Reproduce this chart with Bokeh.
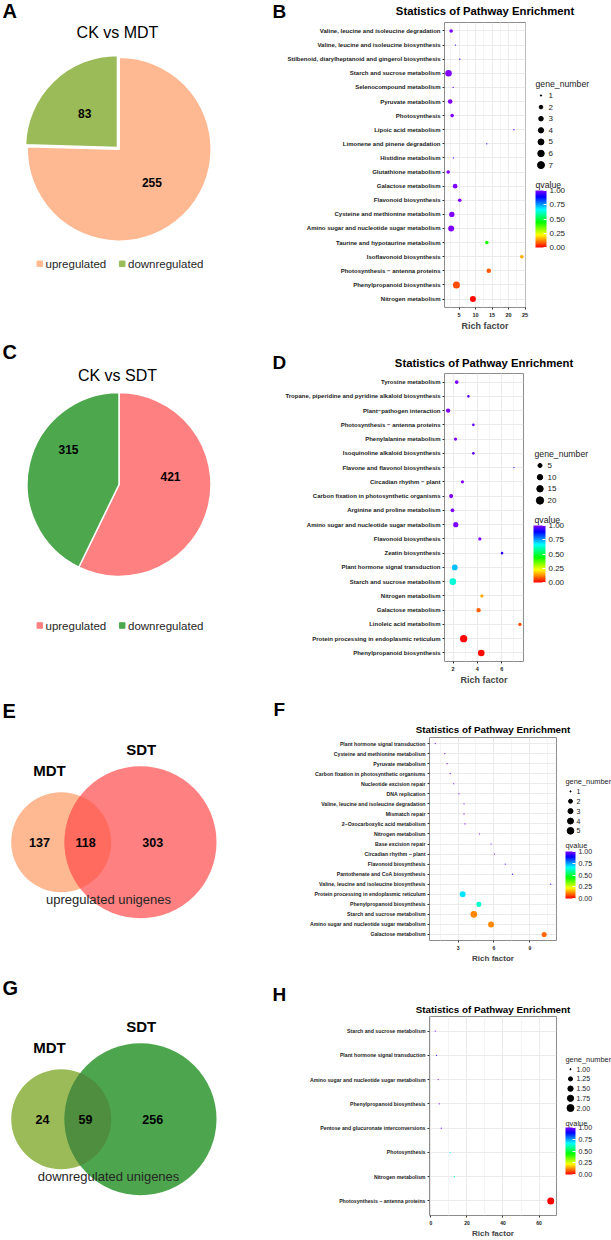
import colorsys
import numpy as np
from bokeh.plotting import figure
from bokeh.models import (Range1d, FactorRange, FixedTicker, ColumnDataSource,
                          LinearColorMapper, ColorBar, PrintfTickFormatter)
from bokeh.layouts import row, column
from bokeh.core.properties import value
from bokeh.embed import file_html
from bokeh.resources import INLINE

FONT = "Liberation Sans"
TITLE = "Statistics of Pathway Enrichment"

# ----------------------------- data -----------------------------
deg_labels = ["upregulated", "downregulated"]
ck_mdt_counts = [255, 83]
ck_sdt_counts = [421, 315]
venn_sets = ["MDT", "SDT"]
venn_up_counts = [137, 118, 303]     # MDT only, shared, SDT only
venn_down_counts = [24, 59, 256]

B_pathways = [
    "Valine, leucine and isoleucine degradation",
    "Valine, leucine and isoleucine biosynthesis",
    "Stilbenoid, diarylheptanoid and gingerol biosynthesis",
    "Starch and sucrose metabolism",
    "Selenocompound metabolism",
    "Pyruvate metabolism",
    "Photosynthesis",
    "Lipoic acid metabolism",
    "Limonene and pinene degradation",
    "Histidine metabolism",
    "Glutathione metabolism",
    "Galactose metabolism",
    "Flavonoid biosynthesis",
    "Cysteine and methionine metabolism",
    "Amino sugar and nucleotide sugar metabolism",
    "Taurine and hypotaurine metabolism",
    "Isoflavonoid biosynthesis",
    "Photosynthesis \u2212 antenna proteins",
    "Phenylpropanoid biosynthesis",
    "Nitrogen metabolism",
]
B_rich = [2.6, 3.9, 5.2, 1.8, 3.2, 2.3, 2.9, 21.6, 13.4, 3.3,
          1.7, 3.8, 5.2, 2.8, 2.6, 13.4, 24.0, 14.0, 4.2, 9.2]
B_genes = [2, 1, 1, 6, 1, 3, 2, 1, 1, 1, 2, 3, 2, 4, 5, 2, 2, 3, 7, 5]
B_q = [1.0, 0.95, 0.95, 1.0, 0.98, 1.0, 1.0, 0.97, 0.9, 0.97,
       1.0, 1.0, 1.0, 1.0, 1.0, 0.42, 0.15, 0.08, 0.07, 0.01]
B_ticks = [5, 10, 15, 20, 25]
B_size_breaks = [1, 2, 3, 4, 5, 6, 7]
B_size_labels = ["1", "2", "3", "4", "5", "6", "7"]

D_pathways = [
    "Tyrosine metabolism",
    "Tropane, piperidine and pyridine alkaloid biosynthesis",
    "Plant\u2212pathogen interaction",
    "Photosynthesis \u2212 antenna proteins",
    "Phenylalanine metabolism",
    "Isoquinoline alkaloid biosynthesis",
    "Flavone and flavonol biosynthesis",
    "Circadian rhythm \u2212 plant",
    "Carbon fixation in photosynthetic organisms",
    "Arginine and proline metabolism",
    "Amino sugar and nucleotide sugar metabolism",
    "Flavonoid biosynthesis",
    "Zeatin biosynthesis",
    "Plant hormone signal transduction",
    "Starch and sucrose metabolism",
    "Nitrogen metabolism",
    "Galactose metabolism",
    "Linoleic acid metabolism",
    "Protein processing in endoplasmic reticulum",
    "Phenylpropanoid biosynthesis",
]
D_rich = [2.30, 3.26, 1.59, 3.67, 2.20, 3.67, 7.01, 2.77, 1.84, 1.95,
          2.22, 4.20, 6.03, 2.14, 1.98, 4.37, 4.10, 7.50, 2.87, 4.32]
D_genes = [4, 2, 6, 2, 3, 2, 1, 3, 5, 4, 9, 3, 2, 12, 16, 3, 6, 3, 20, 16]
D_q = [1.0, 0.97, 1.0, 0.97, 1.0, 0.97, 0.93, 1.0, 1.0, 1.0,
       1.0, 1.0, 0.93, 0.72, 0.63, 0.15, 0.085, 0.07, 0.005, 0.01]
D_ticks = [2, 4, 6]
D_size_breaks = [5, 10, 15, 20]
D_size_labels = ["5", "10", "15", "20"]

F_pathways = [
    "Plant hormone signal transduction",
    "Cysteine and methionine metabolism",
    "Pyruvate metabolism",
    "Carbon fixation in photosynthetic organisms",
    "Nucleotide excision repair",
    "DNA replication",
    "Valine, leucine and isoleucine degradation",
    "Mismatch repair",
    "2\u2212Oxocarboxylic acid metabolism",
    "Nitrogen metabolism",
    "Base excision repair",
    "Circadian rhythm \u2212 plant",
    "Flavonoid biosynthesis",
    "Pantothenate and CoA biosynthesis",
    "Valine, leucine and isoleucine biosynthesis",
    "Protein processing in endoplasmic reticulum",
    "Phenylpropanoid biosynthesis",
    "Starch and sucrose metabolism",
    "Amino sugar and nucleotide sugar metabolism",
    "Galactose metabolism",
]
F_rich = [1.10, 1.90, 2.09, 2.34, 2.64, 3.08, 3.50, 3.50, 3.58, 4.79,
          5.76, 6.03, 6.94, 7.55, 10.74, 3.39, 4.74, 4.32, 5.76, 10.19]
F_genes = [1, 1, 1, 1, 1, 1, 1, 1, 1, 1, 1, 1, 1, 1, 1, 4, 3, 5, 4, 3]
F_q = [1.0, 1.0, 1.0, 1.0, 1.0, 1.0, 1.0, 1.0, 1.0, 1.0,
       0.98, 0.97, 0.97, 0.95, 0.95, 0.69, 0.62, 0.12, 0.12, 0.09]
F_ticks = [3, 6, 9]
F_size_breaks = [1, 2, 3, 4, 5]
F_size_labels = ["1", "2", "3", "4", "5"]

H_pathways = [
    "Starch and sucrose metabolism",
    "Plant hormone signal transduction",
    "Amino sugar and nucleotide sugar metabolism",
    "Phenylpropanoid biosynthesis",
    "Pentose and glucuronate interconversions",
    "Photosynthesis",
    "Nitrogen metabolism",
    "Photosynthesis \u2212 antenna proteins",
]
H_rich = [2.4, 3.1, 4.0, 4.6, 5.7, 10.6, 13.0, 66.5]
H_genes = [1, 1, 1, 1, 1, 1, 1, 2]
H_q = [1.0, 0.95, 1.0, 1.0, 1.0, 0.66, 0.6, 0.0]
H_ticks = [0, 20, 40, 60]
H_size_breaks = [1.0, 1.25, 1.5, 1.75, 2.0]
H_size_labels = ["1.00", "1.25", "1.50", "1.75", "2.00"]

Q_breaks = [0.0, 0.25, 0.5, 0.75, 1.0]

# ----------------------------- style -----------------------------
PAL = []
for i in range(256):
    r, g, b = colorsys.hsv_to_rgb((270.0 / 360.0) * i / 255.0, 1.0, 1.0)
    PAL.append("#%02x%02x%02x" % (int(r * 255), int(g * 255), int(b * 255)))
mapper = LinearColorMapper(palette=PAL, low=0, high=1)


def area_size(v, vmin, vmax, d0, d1):
    v = np.asarray(v, dtype=float)
    return d0 + (d1 - d0) * np.sqrt((v - vmin) / (vmax - vmin))


def txt(p, x, y, text, size, bold=False, align="left", baseline="middle", color="black"):
    p.text(x=x, y=y, text=text, text_font=value(FONT), text_font_size=size,
           text_font_style="bold" if bold else "normal", text_align=align,
           text_baseline=baseline, text_color=color)


def blank_fig(left, right, top, bottom, flip=False, frame_bottom=None):
    fb = bottom if frame_bottom is None else frame_bottom
    yr = Range1d(fb, top) if flip else Range1d(-fb, -top)
    p = figure(width=right - left, height=bottom - top, x_range=Range1d(left, right),
               y_range=yr, output_backend="svg", toolbar_location=None,
               min_border_left=0, min_border_right=0, min_border_top=0,
               min_border_bottom=bottom - fb, x_axis_type=None, y_axis_type=None)
    p.outline_line_color = None
    p.background_fill_color = "white"
    p.border_fill_color = "white"
    return p


def pie_fig(top, bottom, letter, letter_y, title, title_y, counts, colors, cx, cy, R,
            legend_y, explode_idx=None, label_xy=None):
    p = blank_fig(0, 250, top, bottom)
    txt(p, [2], [-letter_y], [letter], "20px", bold=True)
    txt(p, [117], [-title_y], [title], "16px", align="center")
    total = float(sum(counts))
    fr = np.cumsum([0] + list(counts)) / total
    starts = np.pi / 2 - 2 * np.pi * fr[:-1]
    ends = np.pi / 2 - 2 * np.pi * fr[1:]
    mids = (starts + ends) / 2
    ex = np.zeros(len(counts))
    if explode_idx is not None:
        ex[explode_idx] = 2.5
    xs = cx + ex * np.cos(mids)
    ys = -cy + ex * np.sin(mids)
    p.wedge(x=xs, y=ys, radius=R, start_angle=starts, end_angle=ends, direction="clock",
            fill_color=colors, line_color="white", line_width=1.5)
    if label_xy is None:
        lx = list(xs + 0.51 * R * np.cos(mids))
        ly = list(ys + 0.51 * R * np.sin(mids))
    else:
        lx = [pt[0] for pt in label_xy]
        ly = [-pt[1] for pt in label_xy]
    txt(p, lx, ly, [str(c) for c in counts], "12px", bold=True, align="center")
    p.scatter(x=[39.3, 121.7], y=[-legend_y, -legend_y], marker="square", size=5.5,
              color=colors)
    txt(p, [45, 127.5], [-legend_y, -legend_y], deg_labels, "11.5px", color="#262626")
    return p


def venn_fig(top, bottom, letter, letter_y, counts, colors, lens_color, cy, caption, dx):
    p = blank_fig(0, 250, top, bottom)
    txt(p, [2], [-letter_y], [letter], "20px", bold=True)
    c1, r1, c2, r2 = 60.7, 50.0, 140.0, 76.0
    p.circle(x=[c1], y=[-cy], radius=r1, fill_color=colors[0], line_color=None)
    p.circle(x=[c2], y=[-cy], radius=r2, fill_color=colors[1], line_color=None)
    d = c2 - c1
    a = (d * d + r1 * r1 - r2 * r2) / (2 * d)
    h = np.sqrt(r1 * r1 - a * a)
    t1 = np.arctan2(h, a)
    t2 = np.arctan2(h, d - a)
    arc1 = np.linspace(-t1, t1, 60)
    arc2 = np.linspace(np.pi - t2, np.pi + t2, 60)
    lx = np.concatenate([c1 + r1 * np.cos(arc1), c2 + r2 * np.cos(arc2)])
    ly = np.concatenate([-cy + r1 * np.sin(arc1), -cy + r2 * np.sin(arc2)])
    p.patch(x=lx, y=ly, fill_color=lens_color, line_color=None)
    txt(p, [49], [-(cy - 71.7)], [venn_sets[0]], "15px", bold=True, align="center")
    txt(p, [140.7], [-(cy - 92.4)], [venn_sets[1]], "15px", bold=True, align="center")
    txt(p, [39 + dx, 85, 152.3], [-cy] * 3, [str(c) for c in counts], "12.5px", bold=True,
        align="center")
    txt(p, [108], [-(cy + 57.3)], [caption], "13px", align="center", color="#262626")
    return p


def header_fig(top, bottom, letter, letter_x, letter_y, title_x, title_y, title_fs):
    p = blank_fig(250, 611, top, bottom)
    txt(p, [letter_x], [-letter_y], [letter], "19px", bold=True)
    txt(p, [title_x], [-title_y], [TITLE], title_fs, bold=True, align="center")
    return p


def dot_fig(top, bottom, left, right, fl, fr_, fb, pathways, rich, genes, q, ticks,
            size_rng, label_fs, tick_fs, xlab_fs):
    factors = list(reversed(pathways))
    lo, hi = min(rich), max(rich)
    span = hi - lo
    xr = Range1d(lo - 0.05 * span, hi + 0.05 * span)
    yr = FactorRange(factors=factors, range_padding=0.2 / len(factors),
                     range_padding_units="percent")
    p = figure(width=right - left, height=bottom - top, x_range=xr, y_range=yr,
               min_border_left=fl - left, min_border_right=right - fr_,
               min_border_top=0, min_border_bottom=bottom - fb,
               output_backend="svg", toolbar_location=None)
    p.background_fill_color = "white"
    p.border_fill_color = "white"
    p.outline_line_color = "#8c8c8c"
    p.outline_line_width = 1
    step = ticks[1] - ticks[0]
    minor = [t - step / 2 for t in ticks] + [ticks[-1] + step / 2]
    minor = [m for m in minor if xr.start <= m <= xr.end]
    tk = FixedTicker(ticks=ticks, minor_ticks=minor)
    p.xaxis.ticker = tk
    p.xgrid.ticker = tk
    p.xgrid.grid_line_color = "#ebebeb"
    p.xgrid.minor_grid_line_color = "#f4f4f4"
    p.ygrid.grid_line_color = "#ebebeb"
    p.axis.axis_line_color = None
    p.axis.major_tick_line_color = "#333333"
    p.axis.major_tick_out = 2
    p.axis.major_tick_in = 0
    p.axis.minor_tick_line_color = None
    p.axis.major_label_text_font = FONT
    p.axis.major_label_text_font_style = "bold"
    p.axis.major_label_text_color = "#1a1a1a"
    p.yaxis.major_label_text_font_size = label_fs
    p.yaxis.major_label_standoff = 2
    p.xaxis.major_label_text_font_size = tick_fs
    p.xaxis.major_label_standoff = 1
    p.xaxis.axis_label = "Rich factor"
    p.xaxis.axis_label_text_font = FONT
    p.xaxis.axis_label_text_font_size = xlab_fs
    p.xaxis.axis_label_text_font_style = "bold"
    p.xaxis.axis_label_standoff = 1
    src = ColumnDataSource(dict(x=rich, y=pathways, q=q, s=area_size(genes, *size_rng)))
    p.scatter(x="x", y="y", size="s", source=src,
              fill_color={"field": "q", "transform": mapper}, line_color=None)
    return p


def legend_fig(top, bottom, left, right, fb, tx, gy, item_ys, cx, lx, breaks, labels,
               size_rng, qy, bar, title_fs, lab_fs):
    p = blank_fig(left, right, top, bottom, flip=True, frame_bottom=fb)
    txt(p, [tx], [gy], ["gene_number"], title_fs, color="#1a1a1a")
    p.scatter(x=[cx] * len(breaks), y=item_ys, size=area_size(breaks, *size_rng),
              color="black")
    txt(p, [lx] * len(labels), item_ys, labels, lab_fs, color="#1a1a1a")
    txt(p, [tx], [qy], ["qvalue"], title_fs, color="#1a1a1a")
    bx0, bx1, by0, by1 = bar
    cb = ColorBar(color_mapper=mapper, ticker=FixedTicker(ticks=Q_breaks),
                  formatter=PrintfTickFormatter(format="%.2f"),
                  location=(bx0 - left, fb - by1), width=int(bx1 - bx0),
                  height=int(by1 - by0), padding=0, label_standoff=3,
                  major_label_text_font=FONT, major_label_text_font_size=lab_fs,
                  major_label_text_color="#1a1a1a",
                  major_tick_line_color="white", major_tick_in=3, major_tick_out=0,
                  minor_tick_line_color=None, bar_line_color=None,
                  border_line_color=None, background_fill_alpha=0)
    p.add_layout(cb)
    return p


# ----------------------------- panels -----------------------------
colors_A = ["#FFB992", "#9BBB59"]
colors_C = ["#FF8080", "#4DA74D"]

pA = pie_fig(0, 340, "A", 10, "CK vs MDT", 32, ck_mdt_counts, colors_A,
             118.7, 148.7, 92, 263.3, explode_idx=1)
pC = pie_fig(340, 690, "C", 351, "CK vs SDT", 375, ck_sdt_counts, colors_C,
             118.5, 484, 92, 625, label_xy=[(170, 476), (68, 449)])
pE = venn_fig(690, 965, "E", 710, venn_up_counts, ["#FFB992", "#FF8080"], "#FF6B5F",
              841.7, "upregulated unigenes", 0)
pG = venn_fig(965, 1240, "G", 987, venn_down_counts, ["#9BBB59", "#4DA64D"], "#4F8E3F",
              1118.7, "downregulated unigenes", 3)

hB = header_fig(0, 22, "B", 272, 11, 484.5, 10.5, "11.3px")
pB = dot_fig(22, 340, 250, 530, 444, 525, 307, B_pathways, B_rich, B_genes, B_q,
             B_ticks, (1, 7, 1.3, 7.0), "6px", "5.5px", "9px")
lB = legend_fig(22, 340, 530, 611, 307, 535, 83,
                [95, 106.6, 118.2, 129.8, 141.4, 153, 164.6], 540.5, 548,
                B_size_breaks, B_size_labels, (1, 7, 1.3, 7.0), 184,
                (535, 546, 190, 247), "8.7px", "8px")

hD = header_fig(340, 373, "D", 272, 362, 483.5, 362, "11.3px")
pD = dot_fig(373, 690, 250, 530, 444, 523, 661, D_pathways, D_rich, D_genes, D_q,
             D_ticks, (1, 20, 1.3, 7.3), "6px", "5.5px", "9px")
lD = legend_fig(373, 690, 530, 611, 661, 534, 453.3, [465, 476.7, 488.3, 500], 539.5, 547,
                D_size_breaks, D_size_labels, (1, 20, 1.3, 7.3), 519,
                (533, 545, 525, 582), "8.7px", "8px")

hF = header_fig(690, 737, "F", 273, 708.5, 492.5, 729.3, "9.8px")
pF = dot_fig(737, 965, 250, 558, 429, 556, 943, F_pathways, F_rich, F_genes, F_q,
             F_ticks, (1, 5, 1.2, 6.7), "5.2px", "5px", "8px")
lF = legend_fig(737, 965, 558, 611, 943, 565, 781.7, [791.7, 801.7, 811.7, 821.8, 831.7],
                570, 576, F_size_breaks, F_size_labels, (1, 5, 1.2, 6.7), 847,
                (565, 575, 854, 901), "7.4px", "7px")

hH = header_fig(965, 1016, "H", 272, 994.3, 492.5, 1008.7, "9.8px")
pH = dot_fig(1016, 1240, 250, 558, 429, 556, 1221, H_pathways, H_rich, H_genes, H_q,
             H_ticks, (1, 2, 1.2, 7.0), "5.2px", "5px", "8px")
lH = legend_fig(1016, 1240, 558, 611, 1221, 565, 1060.7,
                [1070.3, 1080.3, 1090.3, 1100.3, 1110.3], 570, 576,
                H_size_breaks, H_size_labels, (1, 2, 1.2, 7.0), 1126.7,
                (565, 575, 1133, 1180), "7.4px", "7px")

left_col = column(pA, pC, pE, pG)
right_col = column(hB, row(pB, lB), hD, row(pD, lD), hF, row(pF, lF), hH, row(pH, lH))
layout = row(left_col, right_col)

open("out.html", "w").write(file_html(layout, INLINE))
